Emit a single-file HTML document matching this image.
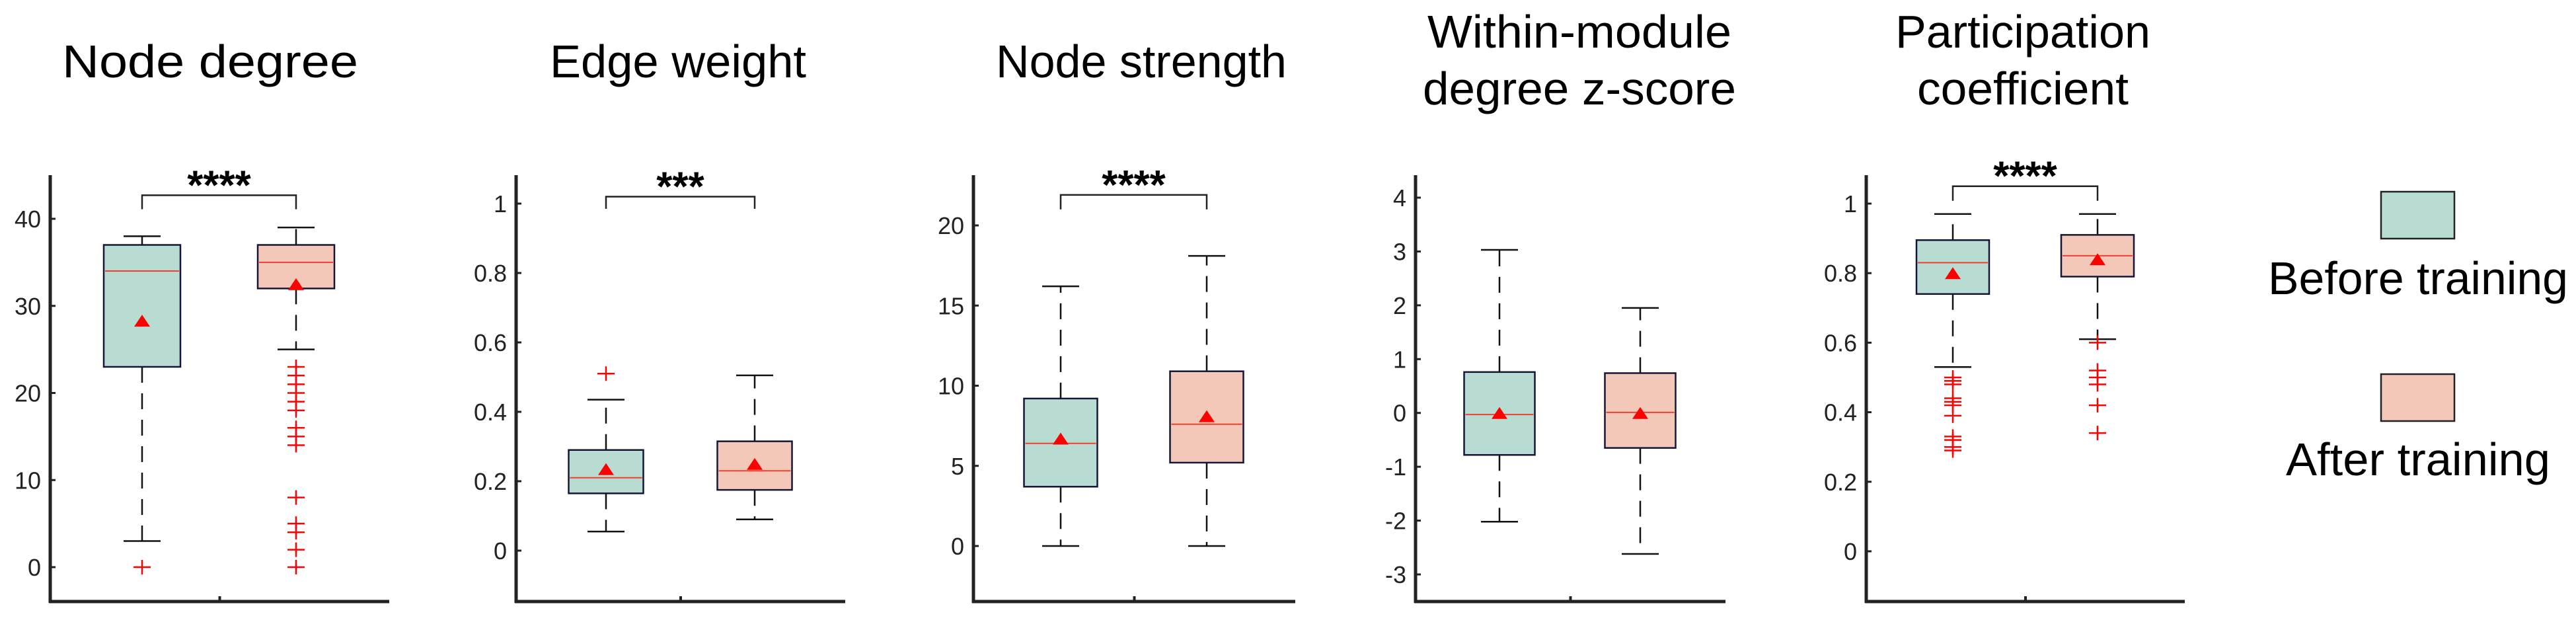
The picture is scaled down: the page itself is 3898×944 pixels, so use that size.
<!DOCTYPE html>
<html><head><meta charset="utf-8"><style>
html,body{margin:0;padding:0;background:#fff;}
svg{display:block;font-family:"Liberation Sans",Arial,sans-serif;}
</style></head><body>
<svg id="c" width="3898" height="944" viewBox="0 0 3898 944" xmlns="http://www.w3.org/2000/svg"></svg>
<script>
// ---- data: [whiskerLow, q1, median, q3, whiskerHigh, mean]
const panelTitles = [["Node degree"],["Edge weight"],["Node strength"],["Within-module","degree z-score"],["Participation","coefficient"]];
const degTicks = [0,10,20,30,40];
const degBefore = [3,23,34,37,38,28.3];
const degAfter = [25,32,35,37,39,32.5];
const degBeforeOut = [0];
const degAfterOut = [23,22,21,20,19,18,16,15,14,8,5,4,2,0];
const ewTicks = [0,0.2,0.4,0.6,0.8,1];
const ewBefore = [0.055,0.165,0.21,0.29,0.435,0.235];
const ewAfter = [0.09,0.175,0.23,0.315,0.505,0.25];
const ewBeforeOut = [0.51];
const ewAfterOut = [];
const nsTicks = [0,5,10,15,20];
const nsBefore = [0,3.7,6.4,9.2,16.2,6.7];
const nsAfter = [0,5.2,7.6,10.9,18.1,8.1];
const nsBeforeOut = [];
const nsAfterOut = [];
const zTicks = [-3,-2,-1,0,1,2,3,4];
const zBefore = [-2.02,-0.78,-0.03,0.76,3.03,0];
const zAfter = [-2.62,-0.65,0.01,0.74,1.95,0];
const zBeforeOut = [];
const zAfterOut = [];
const pcTicks = [0,0.2,0.4,0.6,0.8,1];
const pcBefore = [0.53,0.74,0.83,0.895,0.97,0.80];
const pcAfter = [0.61,0.79,0.85,0.91,0.97,0.84];
const pcBeforeOut = [0.5,0.49,0.48,0.44,0.43,0.42,0.39,0.33,0.32,0.30,0.29];
const pcAfterOut = [0.6,0.52,0.5,0.48,0.42,0.34];
const sigLabels = ["****","***","****","","****"];
const sigLevel = [42.7,1.02,21.9,null,1.05];
const sigLeg = [41.1,0.985,21.0,null,1.008];

// ---- layout (pixels)
const L = [
 {ax:76, right:589, c1:215, c2:448, bw:116, v0:0, p0:858, v1:40, p1:331, tx:318, fmt:v=>String(v)},
 {ax:781, right:1279, c1:917, c2:1142, bw:113, v0:0, p0:833, v1:1, p1:308, tx:1026, fmt:v=>String(v)},
 {ax:1473, right:1960, c1:1605, c2:1826, bw:111, v0:0, p0:826, v1:20, p1:341, tx:1727, fmt:v=>String(v)},
 {ax:2142, right:2611, c1:2269, c2:2482, bw:107, v0:-3, p0:869, v1:4, p1:299, tx:2390, fmt:v=>String(v)},
 {ax:2824, right:3306, c1:2955, c2:3174, bw:110, v0:0, p0:834, v1:1, p1:308, tx:3061, fmt:v=>String(v)}
];
const ticks=[degTicks,ewTicks,nsTicks,zTicks,pcTicks];
const befores=[degBefore,ewBefore,nsBefore,zBefore,pcBefore];
const afters=[degAfter,ewAfter,nsAfter,zAfter,pcAfter];
const bOuts=[degBeforeOut,ewBeforeOut,nsBeforeOut,zBeforeOut,pcBeforeOut];
const aOuts=[degAfterOut,ewAfterOut,nsAfterOut,zAfterOut,pcAfterOut];
const titleW=[[448],[388],[440],[460,474],[386,320]];
const svg=document.getElementById('c');
const NS="http://www.w3.org/2000/svg";
function mk(tag,attrs,parent){const e=document.createElementNS(NS,tag);for(const k in attrs)e.setAttribute(k,attrs[k]);(parent||svg).appendChild(e);return e;}

L.forEach((l,i)=>{
 const g=mk('g',{});
 
 
 const y=v=>l.p0+(v-l.v0)*(l.p1-l.p0)/(l.v1-l.v0);
 const tl=panelTitles[i];
 tl.forEach((t,j)=>{
  const base = tl.length===1?117:(j===0?72:158);
  const te=mk('text',{x:l.tx,y:base,'text-anchor':'middle','font-size':70,fill:'#000',textLength:titleW[i][j],lengthAdjust:'spacingAndGlyphs'},g);
  te.textContent=t;
  
  
 });
 const ya=mk('line',{x1:l.ax,y1:265,x2:l.ax,y2:912,stroke:'#222','stroke-width':5},g);
 
 
 const xa=mk('line',{x1:l.ax-2,y1:910,x2:l.right,y2:910,stroke:'#222','stroke-width':5},g);
 
 
 mk('line',{x1:(l.ax+l.right)/2,y1:910,x2:(l.ax+l.right)/2,y2:902,stroke:'#222','stroke-width':4},g);
 ticks[i].forEach(t=>{
  const yy=y(t);
  mk('line',{x1:l.ax,y1:yy,x2:l.ax+8,y2:yy,stroke:'#222','stroke-width':3},g);
  const tt=mk('text',{x:l.ax-14,y:yy+13,'text-anchor':'end','font-size':36,fill:'#222'},g);
  tt.textContent=l.fmt(t);
  
  
 });
 [[befores[i],bOuts[i],l.c1,'#b8dbd2','before'],[afters[i],aOuts[i],l.c2,'#f3c8b8','after']].forEach(([d,outs,cx,fill,nm])=>{
  const bg=mk('g',{},g);
  
  
  const hw=l.bw/2;
  mk('line',{x1:cx,y1:y(d[3]),x2:cx,y2:y(d[4]),stroke:'#111','stroke-width':2.5,'stroke-dasharray':'24 16'},bg);
  mk('line',{x1:cx,y1:y(d[1]),x2:cx,y2:y(d[0]),stroke:'#111','stroke-width':2.5,'stroke-dasharray':'24 16'},bg);
  mk('line',{x1:cx-28,y1:y(d[4]),x2:cx+28,y2:y(d[4]),stroke:'#111','stroke-width':2.5},bg);
  mk('line',{x1:cx-28,y1:y(d[0]),x2:cx+28,y2:y(d[0]),stroke:'#111','stroke-width':2.5},bg);
  mk('rect',{x:cx-hw,y:y(d[3]),width:l.bw,height:y(d[1])-y(d[3]),fill:fill,stroke:'#15153a','stroke-width':2.5},bg);
  mk('line',{x1:cx-hw+2,y1:y(d[2]),x2:cx+hw-2,y2:y(d[2]),stroke:'#f04030','stroke-width':2},bg);
  const my=y(d[5]);
  const tri=mk('polygon',{points:`${cx-12},${my+9} ${cx+12},${my+9} ${cx},${my-9}`,fill:'#ff0000'},bg);
  
  
  outs.forEach(o=>{
   const oy=y(o);
   const p=mk('path',{d:`M${cx-13},${oy}H${cx+13}M${cx},${oy-11}V${oy+11}`,stroke:'#ff0000','stroke-width':2.5,fill:'none'},bg);
   
   
  });
 });
 if(sigLabels[i]){
  const sy=y(sigLevel[i]), ly=y(sigLeg[i]);
  const br=mk('path',{d:`M${l.c1},${ly}V${sy}H${l.c2}V${ly}`,stroke:'#222','stroke-width':2.5,fill:'none'},g);
  
  
  const st=mk('text',{x:(l.c1+l.c2)/2,y:sy+6,'text-anchor':'middle','font-size':62,'font-weight':'bold',fill:'#000'},g);
  st.textContent=sigLabels[i];
  
  
 }
});
const lg=mk('g',{});


[['Before training','#b8dbd2',290,445,454],['After training','#f3c8b8',566,719,400]].forEach(([t,f,by,ty,tw])=>{
 const r=mk('rect',{x:3603,y:by,width:111,height:71,fill:f,stroke:'#222','stroke-width':2.5},lg);
 
 
 const tx=mk('text',{x:3659,y:ty,'text-anchor':'middle','font-size':70,fill:'#000',textLength:tw,lengthAdjust:'spacingAndGlyphs'},lg);
 tx.textContent=t;
 
 
});
</script>
</body></html>
